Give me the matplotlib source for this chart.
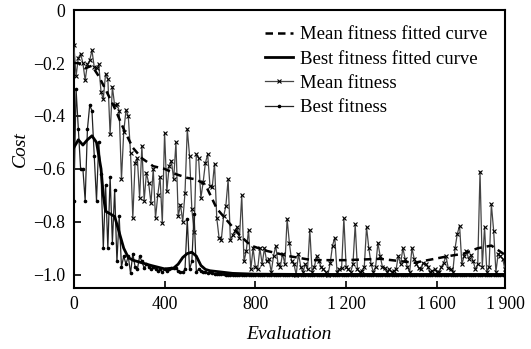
import numpy as np
import matplotlib
matplotlib.use("Agg")
import matplotlib.pyplot as plt

plt.rcParams['font.family'] = ['Liberation Serif', 'DejaVu Serif']
plt.rcParams['mathtext.fontset'] = 'stix'

evaluation = np.arange(0, 1901, 10)

mean_fitness = [
    -0.13, -0.25, -0.18, -0.165, -0.20, -0.265, -0.205, -0.19, -0.152, -0.215,
    -0.22, -0.205, -0.31, -0.336, -0.24, -0.26, -0.47, -0.29, -0.36, -0.355,
    -0.38, -0.64, -0.46, -0.378, -0.40, -0.54, -0.786, -0.577, -0.56, -0.71,
    -0.513, -0.72, -0.615, -0.655, -0.73, -0.60, -0.786, -0.70, -0.63, -0.805,
    -0.463, -0.685, -0.59, -0.57, -0.64, -0.50, -0.78, -0.735, -0.80, -0.69,
    -0.45, -0.55, -0.75, -0.84, -0.545, -0.56, -0.71, -0.65, -0.577, -0.545,
    -0.665, -0.67, -0.58, -0.786, -0.86, -0.868, -0.78, -0.74, -0.64, -0.868,
    -0.85, -0.835, -0.82, -0.86, -0.70, -0.95, -0.91, -0.83, -0.98, -0.90,
    -0.97, -0.98, -0.90, -0.96, -0.90, -0.95, -0.94, -0.99, -0.93, -0.89,
    -0.96, -0.97, -0.92, -0.96, -0.79, -0.88, -0.95, -0.96, -1.00, -0.92,
    -0.97, -0.99, -0.96, -0.98, -0.83, -0.99, -0.97, -0.93, -0.95, -0.97,
    -0.98, -0.99, -1.00, -0.955, -0.89, -0.86, -0.99, -0.98, -0.975, -0.787,
    -0.97, -0.98, -0.99, -0.96, -0.81, -0.98, -0.99, -0.985, -0.97, -0.82,
    -0.90, -0.96, -0.99, -0.97, -0.88, -0.93, -0.97, -0.975, -0.99, -0.98,
    -0.99, -0.985, -0.98, -0.93, -0.96, -0.90, -0.94, -0.97, -0.99, -0.90,
    -0.94, -0.96, -0.975, -0.98, -0.955, -0.96, -0.97, -0.99, -0.985, -0.98,
    -0.99, -0.99, -0.97, -0.955, -0.93, -0.975, -0.98, -0.99, -0.90, -0.845,
    -0.815, -0.96, -0.93, -0.91, -0.94, -0.925, -0.95, -0.98, -0.96, -0.61,
    -0.97, -0.82, -0.99, -0.97, -0.734, -0.833, -0.99, -0.92, -0.93, -0.94,
    -0.98,
]

best_fitness = [
    -0.72, -0.30, -0.45, -0.60, -0.60, -0.72, -0.45, -0.36, -0.38, -0.55,
    -0.72, -0.50, -0.62, -0.90, -0.66, -0.90, -0.63, -0.88, -0.68, -0.95,
    -0.78, -0.97, -0.93, -0.96, -0.93, -0.995, -0.92, -0.97, -0.98, -0.93,
    -0.95, -0.975, -0.96, -0.97, -0.98, -0.97, -0.98, -0.985, -0.98, -0.99,
    -0.98, -0.985, -0.98, -0.975, -0.975, -0.975, -0.985, -0.99, -0.99, -0.98,
    -0.79, -0.98, -0.95, -0.77, -0.99, -0.98, -0.985, -0.99, -0.99, -0.995,
    -0.99, -0.995, -0.997, -0.998, -0.998, -0.999, -0.999, -1.0, -1.0, -1.0,
    -1.0, -1.0, -1.0, -1.0, -1.0, -1.0, -1.0, -1.0, -1.0, -1.0,
    -1.0, -1.0, -1.0, -1.0, -1.0, -1.0, -1.0, -1.0, -1.0, -1.0,
    -1.0, -1.0, -1.0, -1.0, -1.0, -1.0, -1.0, -1.0, -1.0, -1.0,
    -1.0, -1.0, -1.0, -1.0, -1.0, -1.0, -1.0, -1.0, -1.0, -1.0,
    -1.0, -1.0, -1.0, -1.0, -1.0, -1.0, -1.0, -1.0, -1.0, -1.0,
    -1.0, -1.0, -1.0, -1.0, -1.0, -1.0, -1.0, -1.0, -1.0, -1.0,
    -1.0, -1.0, -1.0, -1.0, -1.0, -1.0, -1.0, -1.0, -1.0, -1.0,
    -1.0, -1.0, -1.0, -1.0, -1.0, -1.0, -1.0, -1.0, -1.0, -1.0,
    -1.0, -1.0, -1.0, -1.0, -1.0, -1.0, -1.0, -1.0, -1.0, -1.0,
    -1.0, -1.0, -1.0, -1.0, -1.0, -1.0, -1.0, -1.0, -1.0, -1.0,
    -1.0, -1.0, -1.0, -1.0, -1.0, -1.0, -1.0, -1.0, -1.0, -1.0,
    -1.0, -1.0, -1.0, -1.0, -1.0, -1.0, -1.0, -1.0, -1.0, -1.0,
    -1.0,
]

fit_x = [0, 20, 40, 60, 80, 100, 120, 130, 140, 160, 180, 200, 220, 240, 260,
         280, 300, 340, 400, 440, 460, 480, 500, 520, 540, 560, 580, 600, 700,
         800, 1000, 1900]
best_fit = [-0.52, -0.49, -0.51, -0.49, -0.475, -0.50, -0.60, -0.70, -0.76,
            -0.77, -0.78, -0.84, -0.90, -0.935, -0.945, -0.95, -0.955, -0.965,
            -0.978, -0.975, -0.96, -0.935, -0.92, -0.915, -0.93, -0.965, -0.98,
            -0.985, -0.995, -0.998, -0.999, -0.999]

mfit_x = [0, 20, 50, 80, 110, 140, 180, 220, 260, 300, 350, 400, 450, 500, 540,
          580, 630, 680, 730, 780, 850, 950, 1050, 1200, 1350, 1500, 1650, 1720,
          1780, 1840, 1900]
mean_fit = [-0.20, -0.20, -0.22, -0.21, -0.25, -0.30, -0.37, -0.45, -0.52,
            -0.56, -0.59, -0.60, -0.62, -0.634, -0.64, -0.66, -0.75, -0.80,
            -0.85, -0.89, -0.91, -0.93, -0.945, -0.945, -0.94, -0.955, -0.93,
            -0.92, -0.90, -0.89, -0.925]

x_ticks = [0, 400, 800, 1200, 1600, 1900]
x_tick_labels = ['0', '400', '800', '1\u2009200', '1\u2009600', '1\u2009900']
y_ticks = [0, -0.2, -0.4, -0.6, -0.8, -1.0]
y_tick_labels = ['0', '\u22120.2', '\u22120.4', '\u22120.6', '\u22120.8', '\u22121.0']

fig = plt.figure(figsize=(5.31, 3.49), dpi=100)
ax = fig.add_axes([0.139, 0.175, 0.812, 0.796])

l1, = ax.plot(mfit_x, mean_fit, color='black', lw=1.8, ls=(0, (3, 2)),
              label='Mean fitness fitted curve', zorder=4)
l2, = ax.plot(fit_x, best_fit, color='black', lw=2.0,
              label='Best fitness fitted curve', zorder=4)
l3, = ax.plot(evaluation, mean_fitness, color='#444444', lw=0.9, marker='x',
              ms=3.0, mew=0.8, mec='black', label='Mean fitness', zorder=3)
l4, = ax.plot(evaluation, best_fitness, color='#222222', lw=0.9, marker='o',
              ms=1.6, mec='black', mfc='black', label='Best fitness', zorder=3)

ax.set_xlim(0, 1900)
ax.set_ylim(-1.05, 0)
ax.set_xticks(x_ticks)
ax.set_xticklabels(x_tick_labels)
ax.set_yticks(y_ticks)
ax.set_yticklabels(y_tick_labels)
ax.tick_params(direction='in', length=5, width=1.2, labelsize=12.8, pad=6)
for s in ax.spines.values():
    s.set_linewidth(1.5)

ax.set_xlabel('Evaluation', fontstyle='italic', fontsize=14, labelpad=9)
ax.set_ylabel('Cost', fontstyle='italic', fontsize=14, labelpad=3)

leg = ax.legend(handles=[l1, l2, l3, l4], loc='upper right',
                bbox_to_anchor=(0.985, 0.982), frameon=False, fontsize=13.5,
                handlelength=1.5, handletextpad=0.35, labelspacing=0.38,
                borderaxespad=0.2)

fig.savefig('out.png', dpi=100)
